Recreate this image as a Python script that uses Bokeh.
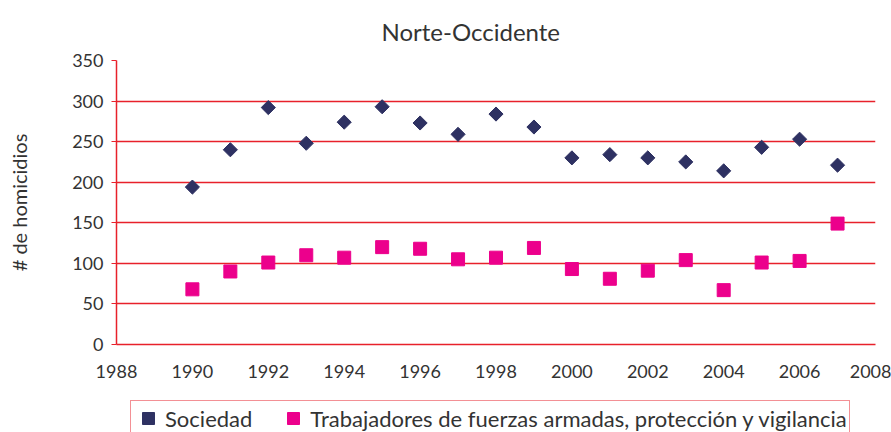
import numpy as np
from bokeh.plotting import figure
from bokeh.layouts import column
from bokeh.models import Legend, LegendItem, FixedTicker
from bokeh.embed import file_html
from bokeh.resources import INLINE

years = [1990, 1991, 1992, 1993, 1994, 1995, 1996, 1997, 1998, 1999,
         2000, 2001, 2002, 2003, 2004, 2005, 2006, 2007]
sociedad = [194, 240, 292, 248, 274, 293, 273, 259, 284, 268,
            230, 234, 230, 225, 214, 243, 253, 221]
trabajadores = [68, 90, 101, 110, 107, 120, 118, 105, 107, 119,
                93, 81, 91, 104, 67, 101, 103, 149]
x_ticks = [1988, 1990, 1992, 1994, 1996, 1998, 2000, 2002, 2004, 2006, 2008]
y_ticks = [0, 50, 100, 150, 200, 250, 300, 350]
series_names = ["Sociedad",
                "Trabajadores de fuerzas armadas, protección y vigilancia"]

RED = "#e8212b"
NAVY = "#2e3162"
PINK = "#ec008c"
FONT = "Lato"
TXT = "#333333"

p = figure(width=891, height=396, x_range=(1988, 2008), y_range=(0, 350),
           output_backend="svg", toolbar_location=None,
           min_border_left=116, min_border_right=16, min_border_top=59,
           min_border_bottom=52)
p.title.text = "Norte-Occidente"
p.title.align = "left"
p.title.offset = 265
p.title.text_font = FONT
p.title.text_font_style = "normal"
p.title.text_font_size = "24px"
p.title.text_color = TXT
p.title.standoff = 29

p.outline_line_color = None
p.background_fill_color = "white"

p.xaxis.ticker = FixedTicker(ticks=x_ticks)
p.yaxis.ticker = FixedTicker(ticks=y_ticks)
for ax in (p.xaxis, p.yaxis):
    ax.axis_line_color = RED
    ax.axis_line_width = 1.5
    ax.major_tick_line_color = RED
    ax.minor_tick_line_color = None
    ax.major_label_text_font = FONT
    ax.major_label_text_font_size = "18px"
    ax.major_label_text_color = TXT
p.xaxis.major_tick_in = 0
p.xaxis.major_tick_out = 0
p.xaxis.major_label_standoff = 20
p.yaxis.major_tick_in = 0
p.yaxis.major_tick_out = 5
p.yaxis.major_label_standoff = 8
p.yaxis.axis_label = "# de homicidios"
p.yaxis.axis_label_text_font = FONT
p.yaxis.axis_label_text_font_style = "normal"
p.yaxis.axis_label_text_font_size = "20px"
p.yaxis.axis_label_text_color = TXT
p.yaxis.axis_label_standoff = 38

p.xgrid.grid_line_color = None
p.ygrid.grid_line_color = RED
p.ygrid.grid_line_width = 1.5
p.ygrid.grid_line_alpha = 1

p.scatter(years, sociedad, marker="square", size=10, angle=np.pi / 4,
          fill_color=NAVY, line_color=NAVY)
p.scatter(years, trabajadores, marker="square", size=13,
          fill_color=PINK, line_color=PINK)

# legend strip below the chart (its renderers sit outside its visible range)
p2 = figure(width=891, height=36, output_backend="svg", toolbar_location=None,
            x_range=(0, 1), y_range=(0, 1),
            x_axis_type=None, y_axis_type=None, min_border=0,
            min_border_left=0, min_border_right=0, min_border_top=0,
            min_border_bottom=0)
p2.outline_line_color = None
p2.xgrid.grid_line_color = None
p2.ygrid.grid_line_color = None
l1 = p2.scatter(years[:1], sociedad[:1], marker="square", size=10,
                angle=np.pi / 4, fill_color=NAVY, line_color=NAVY)
l2 = p2.scatter(years[:1], trabajadores[:1], marker="square", size=13,
                fill_color=PINK, line_color=PINK)
legend = Legend(items=[LegendItem(label=series_names[0], renderers=[l1]),
                       LegendItem(label=series_names[1], renderers=[l2])],
                orientation="horizontal", location=(14, -4),
                border_line_color=RED, border_line_width=1.5,
                label_text_font=FONT, label_text_font_size="22px",
                label_text_color=TXT, spacing=26, padding=2,
                glyph_width=30, glyph_height=30, label_standoff=2, margin=0,
                background_fill_alpha=1)
p2.add_layout(legend, "center")

open("out.html", "w").write(file_html(column(p, p2, spacing=0), INLINE))
